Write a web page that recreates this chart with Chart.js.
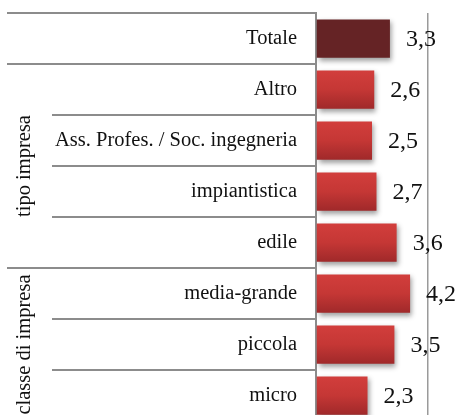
<!DOCTYPE html>
<html>
<head>
<meta charset="utf-8">
<script src="https://cdn.jsdelivr.net/npm/chart.js@4"></script>
<style>
  html, body { margin: 0; padding: 0; background: #fff; overflow: hidden; }
  #wrap { position: relative; width: 457px; height: 421px; }
</style>
</head>
<body>
<div id="wrap"><canvas id="chart"></canvas></div>
<script>
const categories = ["Totale", "Altro", "Ass. Profes. / Soc. ingegneria", "impiantistica", "edile", "media-grande", "piccola", "micro"];
const values = [3.3, 2.6, 2.5, 2.7, 3.6, 4.2, 3.5, 2.3];
// outer label groups, in category order
const groupLabels = ["", "tipo impresa", "classe di impresa"];
const groupSizes = [1, 4, 3];

const SERIF = "'Liberation Serif', 'DejaVu Serif', serif";
const LINE = "#8c8c8c";

function barFill(ctx) {
  const chart = ctx.chart;
  const y = chart.scales.y;
  const i = ctx.dataIndex;
  if (i === 0) return "#652325";
  if (!y) return "#c23533";
  const band = Math.abs(y.getPixelForValue(1) - y.getPixelForValue(0));
  const half = band * 0.75 / 2;
  const yc = y.getPixelForValue(i);
  const g = chart.ctx.createLinearGradient(0, yc - half, 0, yc + half);
  g.addColorStop(0, "#d23e3c");
  g.addColorStop(0.5, "#c53735");
  g.addColorStop(1, "#a0292a");
  return g;
}

// separators and rotated group titles left of the category labels
const groupBoxes = {
  id: "groupBoxes",
  afterDraw(chart) {
    const { ctx, chartArea } = chart;
    const y = chart.scales.y;
    const band = y.getPixelForValue(1) - y.getPixelForValue(0);
    const edge = i => y.getPixelForValue(i) - band / 2;
    const starts = [0];
    groupSizes.forEach(n => starts.push(starts[starts.length - 1] + n));

    ctx.save();
    ctx.strokeStyle = LINE;
    ctx.lineWidth = 2;
    for (let i = 0; i <= categories.length; i++) {
      const outer = starts.includes(i);
      const yy = Math.round(edge(i));
      ctx.beginPath();
      ctx.moveTo(outer ? 7 : 52, yy);
      ctx.lineTo(chartArea.left, yy);
      ctx.stroke();
    }

    ctx.fillStyle = "#111";
    ctx.font = "20.5px " + SERIF;
    ctx.textAlign = "center";
    ctx.textBaseline = "middle";
    groupLabels.forEach((label, g) => {
      if (!label) return;
      const mid = (edge(starts[g]) + edge(starts[g + 1])) / 2;
      ctx.save();
      ctx.translate(25, mid);
      ctx.rotate(-Math.PI / 2);
      ctx.fillText(label, 0, 0);
      ctx.restore();
    });
    ctx.restore();
  }
};

// drop shadow under the bars, then the value next to each bar
const barDecor = {
  id: "barDecor",
  beforeDatasetsDraw(chart) {
    const ctx = chart.ctx;
    ctx.save();
    ctx.shadowColor = "rgba(0,0,0,0.38)";
    ctx.shadowBlur = 5;
    ctx.shadowOffsetX = 2;
    ctx.shadowOffsetY = 3;
  },
  afterDatasetsDraw(chart) {
    const ctx = chart.ctx;
    ctx.restore();
    ctx.save();
    ctx.fillStyle = "#111";
    ctx.font = "24px " + SERIF;
    ctx.textAlign = "left";
    ctx.textBaseline = "middle";
    chart.getDatasetMeta(0).data.forEach((bar, i) => {
      const txt = values[i].toFixed(1).replace(".", ",");
      ctx.fillText(txt, bar.x + 16, bar.y + 1);
    });
    ctx.restore();
  }
};

new Chart(document.getElementById("chart"), {
  type: "bar",
  data: {
    labels: categories,
    datasets: [{
      data: values,
      backgroundColor: barFill,
      borderWidth: 0,
      categoryPercentage: 1,
      barPercentage: 0.75
    }]
  },
  options: {
    indexAxis: "y",
    responsive: true,
    maintainAspectRatio: false,
    animation: false,
    layout: { padding: { top: 13, right: 29, bottom: 0, left: 0 } },
    plugins: { legend: { display: false }, tooltip: { enabled: false } },
    scales: {
      x: {
        min: 0,
        max: 5,
        ticks: { display: false, stepSize: 5 },
        grid: {
          drawTicks: false,
          lineWidth: 1.5,
          color: c => (c.tick && c.tick.value === 5 ? "#9a9a9a" : "rgba(0,0,0,0)")
        },
        border: { display: false }
      },
      y: {
        afterFit(scale) {
          scale.width = 316;
          scale.paddingTop = 0;
          scale.paddingBottom = 0;
        },
        ticks: {
          color: "#111",
          padding: 19,
          font: { family: SERIF, size: 20.5 }
        },
        grid: { display: false, drawTicks: false },
        border: { display: true, color: LINE, width: 2 }
      }
    }
  },
  plugins: [groupBoxes, barDecor]
});
</script>
</body>
</html>
